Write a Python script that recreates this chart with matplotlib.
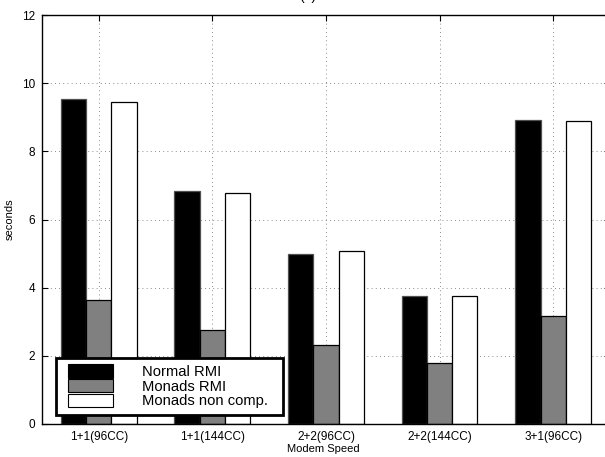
import matplotlib
matplotlib.use("Agg")
import matplotlib.pyplot as plt
from matplotlib.patches import Rectangle
import numpy as np

plt.rcParams['font.family'] = ['Liberation Sans', 'DejaVu Sans']

categories = ["1+1(96CC)", "1+1(144CC)", "2+2(96CC)", "2+2(144CC)", "3+1(96CC)"]
series_names = ["Normal RMI", "Monads RMI", "Monads non comp."]
normal_rmi = [9.53, 6.85, 5.0, 3.77, 8.92]
monads_rmi = [3.65, 2.77, 2.33, 1.80, 3.18]
monads_noncomp = [9.45, 6.77, 5.08, 3.77, 8.90]
yticks = [0, 2, 4, 6, 8, 10, 12]

fig = plt.figure(figsize=(6.05, 4.57), dpi=100)
W, H = 605, 457
left, right, top, bottom = 41.9, 610.0, 15.0, 424.0
ax = fig.add_axes([left / W, (H - bottom) / H, (right - left) / W, (bottom - top) / H])

def ax_x(px):
    return (px - left) / (right - left)

def ax_y(py):
    return (bottom - py) / (bottom - top)

x = np.arange(1, len(categories) + 1)
bw = 0.222
colors = ["black", "#808080", "white"]
edges = ["#505050", "black", "black"]
data = [normal_rmi, monads_rmi, monads_noncomp]
for i, (vals, c, e, name) in enumerate(zip(data, colors, edges, series_names)):
    ax.bar(x + (i - 1) * bw, vals, width=bw, color=c, edgecolor=e, linewidth=0.9,
           label=name, zorder=3)

ax.set_xlim(0.5, 5.5)
ax.set_ylim(0, 12)
ax.set_xticks(x)
ax.set_xticklabels(categories)
ax.set_yticks(yticks)
ax.tick_params(direction='in', length=4, width=0.8, labelsize=8.5, top=True, right=True, pad=5)
ax.grid(True, linestyle=(0, (1, 4)), color='#666666', linewidth=0.6, zorder=1)
ax.set_axisbelow(True)
for s in ax.spines.values():
    s.set_linewidth(1.0)
    s.set_zorder(5)

ax.set_xlabel("Modem Speed", fontsize=8)
ax.xaxis.set_label_coords(ax_x(323), ax_y(444.5))
ax.set_ylabel("seconds", fontsize=8)
ax.yaxis.set_label_coords(ax_x(15), 0.5)

# legend frame drawn separately for exact padding
frame = Rectangle((ax_x(56), ax_y(415)), ax_x(283) - ax_x(56), ax_y(358) - ax_y(415),
                  transform=ax.transAxes, facecolor='white', edgecolor='black',
                  linewidth=2.0, zorder=9, clip_on=False)
ax.add_patch(frame)

leg = ax.legend(loc='upper left', bbox_to_anchor=(ax_x(68), ax_y(364)),
                borderaxespad=0, fontsize=10.6, frameon=False,
                handlelength=3.05, handleheight=1.04, labelspacing=0.0, handletextpad=1.95,
                borderpad=0.0)
for h in leg.legend_handles:
    h.set_edgecolor('black')
    h.set_linewidth(0.8)
leg.set_zorder(10)

fig.text(308 / W, 1 - 3 / H, "(a)", ha='center', va='bottom', fontsize=10)

fig.savefig("out.png", dpi=100)
